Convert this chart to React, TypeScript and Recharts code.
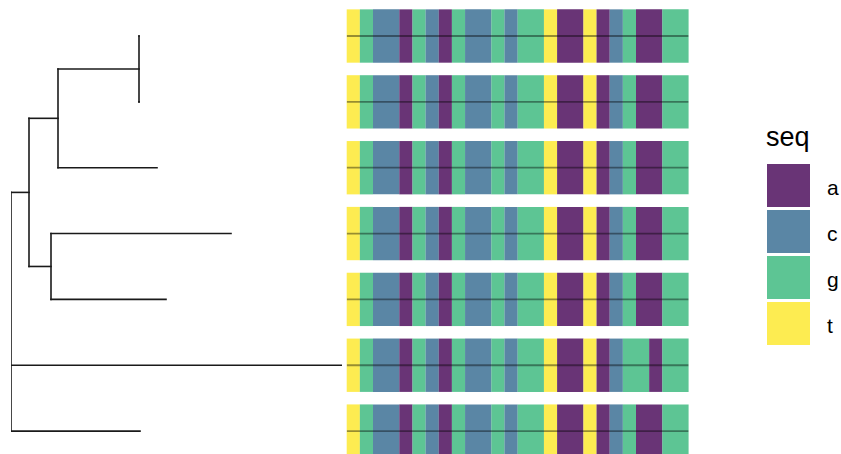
import { ComposedChart, XAxis, YAxis, Line, ReferenceArea, Legend } from 'recharts';

const WIDTH = 841;
const HEIGHT = 454;
const CHART_H = 464;
const FONT = '"Liberation Sans", Arial, sans-serif';

// tree topology: each node with its parent and branch length
const nodeNames = ['root', 'n1', 'n2', 'n3', 'n4', 't1', 't2', 't3', 't4', 't5', 't6', 't7'];
const nodeParents = [null, 'root', 'n1', 'n2', 'n1', 'n3', 'n3', 'n2', 'n4', 'n4', 'root', 'root'];
const branchLengths = [0, 0.018, 0.029, 0.081, 0.022, 0, 0, 0.099, 0.18, 0.115, 0.331, 0.129];

// tips from top to bottom
const tipOrder = ['t1', 't2', 't3', 't4', 't5', 't6', 't7'];

// aligned sequences, one per tip
const sequences = [
  'tgccagcagccgcggtaatacgaagg',
  'tgccagcagccgcggtaatacgaagg',
  'tgccagcagccgcggtaatacgaagg',
  'tgccagcagccgcggtaatacgaagg',
  'tgccagcagccgcggtaatacgaagg',
  'tgccagcagccgcggtaatacggagg',
  'tgccagcagccgcggtaatacgaagg',
];

const bases = ['a', 'c', 'g', 't'];
const baseColors = ['#440154', '#31688E', '#35B779', '#FDE725'];

const maxDepth = 0.331;
const seqLen = sequences[0].length;

function depthOf(name: string): number {
  const i = nodeNames.indexOf(name);
  const p = nodeParents[i];
  return p ? branchLengths[i] + depthOf(p) : 0;
}

function childrenOf(name: string): string[] {
  return nodeNames.filter((_, i) => nodeParents[i] === name);
}

function yOf(name: string): number {
  const tip = tipOrder.indexOf(name);
  if (tip >= 0) return tip + 1;
  const kids = childrenOf(name).map(yOf);
  return kids.reduce((a, b) => a + b, 0) / kids.length;
}

type Pt = { x: number; y: number };

// horizontal edge per node plus a vertical connector per internal node
function treeSegments(): Pt[][] {
  const segs: Pt[][] = [];
  nodeNames.forEach((name, i) => {
    const parent = nodeParents[i];
    if (parent) {
      segs.push([
        { x: depthOf(parent), y: yOf(name) },
        { x: depthOf(name), y: yOf(name) },
      ]);
    }
    const kids = childrenOf(name);
    if (kids.length) {
      const ys = kids.map(yOf);
      const d = depthOf(name);
      segs.push([
        { x: d, y: Math.min(...ys) },
        { x: d, y: Math.max(...ys) },
      ]);
    }
  });
  return segs;
}

// runs of identical bases so neighbouring tiles join without seams
type Run = { row: number; start: number; end: number; base: string };

function seqRuns(): Run[] {
  const runs: Run[] = [];
  sequences.forEach((seq, r) => {
    let start = 0;
    for (let c = 1; c <= seq.length; c++) {
      if (c === seq.length || seq[c] !== seq[start]) {
        runs.push({ row: r + 1, start: start + 1, end: c, base: seq[start] });
        start = c;
      }
    }
  });
  return runs;
}

function SeqLegend() {
  return (
    <div style={{ position: 'relative', width: 75, height: 240, fontFamily: FONT, color: '#000' }}>
      <div style={{ position: 'absolute', left: 0, top: 4, fontSize: 27, lineHeight: '27px' }}>seq</div>
      {bases.map((b, i) => (
        <div key={b}>
          <div
            style={{
              position: 'absolute',
              left: 1,
              top: 44 + i * 46,
              width: 43,
              height: 43,
              background: baseColors[i],
              opacity: 0.8,
            }}
          />
          <div
            style={{
              position: 'absolute',
              left: 61,
              top: 46 + i * 46,
              height: 43,
              lineHeight: '43px',
              fontSize: 21,
            }}
          >
            {b}
          </div>
        </div>
      ))}
    </div>
  );
}

export default function App() {
  const segs = treeSegments();
  const runs = seqRuns();
  const margin = { top: 3.1, bottom: 0 };

  return (
    <div
      style={{
        position: 'absolute',
        left: 0,
        top: 0,
        width: WIDTH,
        height: HEIGHT,
        overflow: 'hidden',
        background: '#fff',
      }}
    >
      {/* phylogenetic tree */}
      <div style={{ position: 'absolute', left: 0, top: 0 }}>
        <ComposedChart width={WIDTH} height={CHART_H} margin={{ ...margin, left: 11, right: WIDTH - 342 }}>
          <XAxis type="number" dataKey="x" domain={[0, maxDepth]} allowDataOverflow hide />
          <YAxis type="number" dataKey="y" domain={[0.5, 7.5]} reversed allowDataOverflow hide />
          {segs.map((s, i) => (
            <Line
              key={i}
              data={s}
              dataKey="y"
              stroke="#1a1a1a"
              strokeWidth={1.6}
              strokeLinecap="square"
              dot={false}
              activeDot={false}
              isAnimationActive={false}
            />
          ))}
        </ComposedChart>
      </div>

      {/* alignment tiles */}
      <div style={{ position: 'absolute', left: 0, top: 0 }}>
        <ComposedChart width={WIDTH} height={CHART_H} margin={{ ...margin, left: 346.7, right: WIDTH - 688.6 }}>
          <XAxis type="number" dataKey="x" domain={[0.5, seqLen + 0.5]} allowDataOverflow hide />
          <YAxis type="number" dataKey="y" domain={[0.5, 7.5]} reversed allowDataOverflow hide />
          {runs.map((run, i) => (
            <ReferenceArea
              key={i}
              x1={run.start - 0.5}
              x2={run.end + 0.5}
              y1={run.row - 0.405}
              y2={run.row + 0.405}
              fill={baseColors[bases.indexOf(run.base)]}
              fillOpacity={0.8}
              stroke="none"
              ifOverflow="visible"
            />
          ))}
          {sequences.map((_, r) => (
            <Line
              key={`line-${r}`}
              data={[
                { x: 0.5, y: r + 1 },
                { x: seqLen + 0.5, y: r + 1 },
              ]}
              dataKey="y"
              stroke="#000"
              strokeOpacity={0.4}
              strokeWidth={1.8}
              dot={false}
              activeDot={false}
              isAnimationActive={false}
            />
          ))}
          <Legend
            layout="vertical"
            align="center"
            verticalAlign="middle"
            content={() => <SeqLegend />}
            wrapperStyle={{ left: 766, top: 120, width: 75, height: 240 }}
          />
        </ComposedChart>
      </div>
    </div>
  );
}
